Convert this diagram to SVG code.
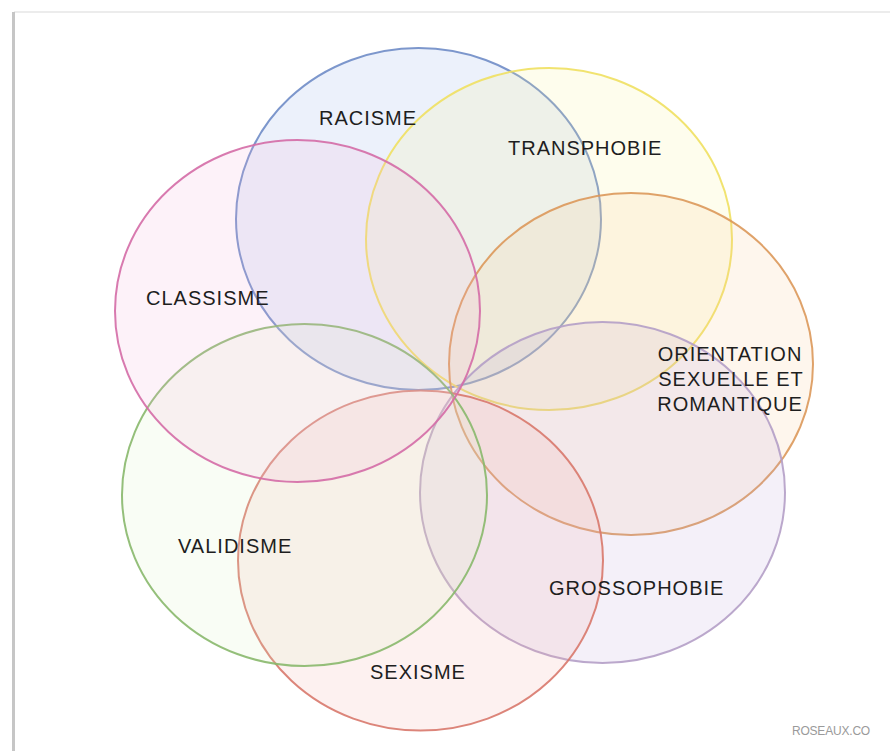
<svg xmlns="http://www.w3.org/2000/svg" width="890" height="751" viewBox="0 0 890 751">
<style>
.c{stroke-width:2;fill-opacity:0.16;stroke-opacity:0.9}
.t{font-family:"Liberation Sans",Arial,sans-serif;font-size:20px;fill:#1e1e1e;letter-spacing:1px}
</style>
<rect x="0" y="0" width="890" height="751" fill="#fff"/>
<line x1="14" y1="12" x2="890" y2="12" stroke="#ececec" stroke-width="2"/>
<line x1="13.5" y1="12" x2="13.5" y2="751" stroke="#c6c6c6" stroke-width="3"/>
<g id="racisme"><ellipse class="c" cx="418.5" cy="219" rx="182.5" ry="171" fill="#8aa8e8" stroke="#6f8cc6"/></g>
<g id="transphobie"><ellipse class="c" cx="549" cy="239" rx="183" ry="171" fill="#f8f090" stroke="#f0e060"/></g>
<g id="orientation"><ellipse class="c" cx="631" cy="364" rx="182" ry="171" fill="#f6c890" stroke="#dc985a"/></g>
<g id="grossophobie"><ellipse class="c" cx="602.5" cy="492.5" rx="182.5" ry="170.5" fill="#b8a0d8" stroke="#b49ec6"/></g>
<g id="sexisme"><ellipse class="c" cx="420.5" cy="560.5" rx="182.5" ry="170" fill="#f4a8a0" stroke="#d8786c"/></g>
<g id="validisme"><ellipse class="c" cx="304.5" cy="495" rx="182.5" ry="171" fill="#d8f0c0" stroke="#88b86c"/></g>
<g id="classisme"><ellipse class="c" cx="297.5" cy="311" rx="182.5" ry="171" fill="#f4b0dc" stroke="#d46ca6"/></g>
<g id="connectors"></g>
<g id="labels">
<text class="t" x="319" y="125">RACISME</text>
<text class="t" x="508" y="155">TRANSPHOBIE</text>
<text class="t" x="146" y="305">CLASSISME</text>
<text class="t" x="178" y="553">VALIDISME</text>
<text class="t" x="370" y="679">SEXISME</text>
<text class="t" x="549" y="595">GROSSOPHOBIE</text>
<text class="t" x="730" y="361" text-anchor="middle">ORIENTATION</text>
<text class="t" x="731" y="386" text-anchor="middle">SEXUELLE ET</text>
<text class="t" x="730" y="411" text-anchor="middle">ROMANTIQUE</text>
<text x="870" y="735" text-anchor="end" font-family="'Liberation Sans',Arial,sans-serif" font-size="12" fill="#9a9a9a" letter-spacing="-0.2">ROSEAUX.CO</text>
</g>
</svg>
